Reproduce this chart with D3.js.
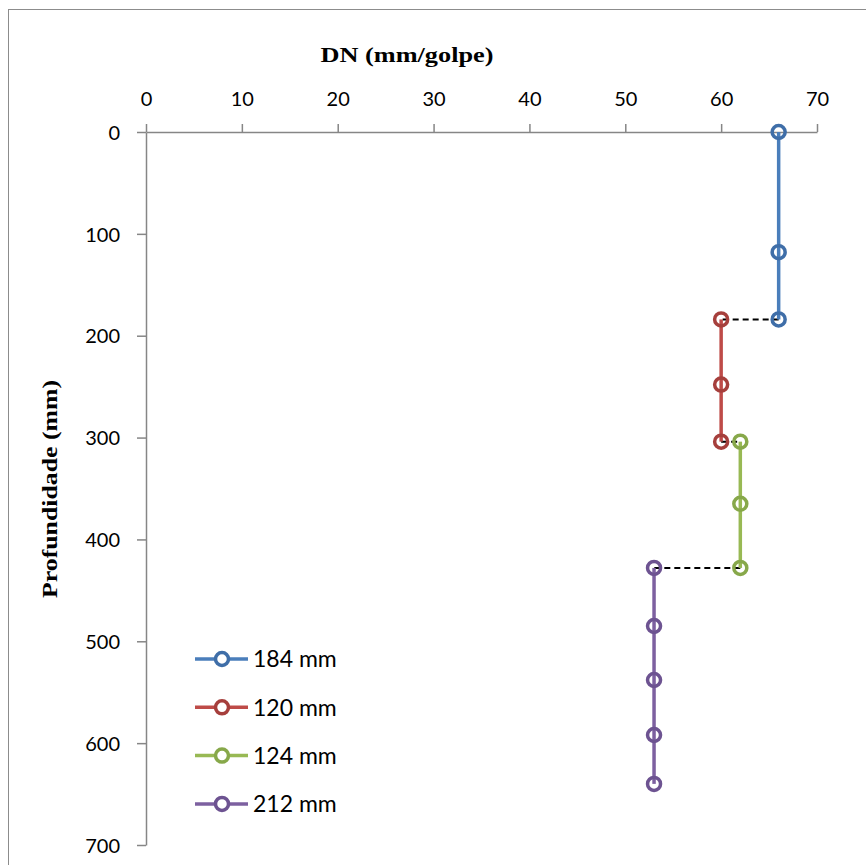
<!DOCTYPE html>
<html>
<head>
<meta charset="utf-8">
<script src="https://cdn.jsdelivr.net/npm/d3@7"></script>
<style>
  body { margin: 0; background: #fff; }
  .tick text { font-family: Lato, "Open Sans", sans-serif; font-size: 20px; fill: #000; }
</style>
</head>
<body>
<div id="chart"></div>
<script>
// series names (legend)
var seriesNames = ['184 mm', '120 mm', '124 mm', '212 mm'];
var seriesColors = ['#4A7EBB', '#BE4B48', '#98B954', '#7D60A0'];
var markerColors = ['#3F6EA8', '#A63F3C', '#87A84A', '#6D5391'];

// DN values (mm/golpe) and depths (mm) per layer
var dn184 = [66, 66, 66];
var depth184 = [0, 118, 184];
var dn120 = [60, 60, 60];
var depth120 = [184, 248, 304];
var dn124 = [62, 62, 62];
var depth124 = [304, 365, 428];
var dn212 = [53, 53, 53, 53, 53];
var depth212 = [428, 485, 538, 592, 640];

var xTicks = [0, 10, 20, 30, 40, 50, 60, 70];
var yTicks = [0, 100, 200, 300, 400, 500, 600, 700];

var W = 866, H = 865;

var svg = d3.select('#chart').append('svg')
    .attr('width', W)
    .attr('height', H);

// outer chart frame
svg.append('rect')
    .attr('x', 8.5).attr('y', 9.5)
    .attr('width', W + 20).attr('height', H + 20)
    .attr('fill', 'none').attr('stroke', '#8c8c8c').attr('stroke-width', 1);

var x = d3.scaleLinear().domain([0, 70]).range([146, 817]);
var y = d3.scaleLinear().domain([0, 700]).range([132, 845]);

var g = svg.append('g');

// x axis on top
var xAxis = g.append('g')
    .attr('transform', 'translate(0,132)')
    .call(d3.axisTop(x).tickValues(xTicks).tickSize(8).tickPadding(18).tickSizeOuter(0));
// y axis on left
var yAxis = g.append('g')
    .attr('transform', 'translate(146,0)')
    .call(d3.axisLeft(y).tickValues(yTicks).tickSize(9).tickPadding(17).tickSizeOuter(0));

[xAxis, yAxis].forEach(function(ax){
    ax.select('.domain').attr('stroke', '#868686').attr('stroke-width', 1.5);
    ax.selectAll('.tick line').attr('stroke', '#868686').attr('stroke-width', 1.5);
    ax.selectAll('.tick text').attr('dy', '0.36em');
});
xAxis.selectAll('.tick text').attr('dy', '0');

// axis titles
svg.append('text')
    .attr('x', 407).attr('y', 62)
    .attr('text-anchor', 'middle')
    .attr('textLength', 173)
    .attr('lengthAdjust', 'spacingAndGlyphs')
    .style('font-family', '"Liberation Serif", serif')
    .style('font-weight', 'bold')
    .style('font-size', '22px')
    .text('DN (mm/golpe)');

svg.append('text')
    .attr('transform', 'translate(57,489) rotate(-90)')
    .attr('text-anchor', 'middle')
    .attr('textLength', 218)
    .attr('lengthAdjust', 'spacingAndGlyphs')
    .style('font-family', '"Liberation Serif", serif')
    .style('font-weight', 'bold')
    .style('font-size', '22px')
    .text('Profundidade (mm)');

var series = [
    {dn: dn184, depth: depth184},
    {dn: dn120, depth: depth120},
    {dn: dn124, depth: depth124},
    {dn: dn212, depth: depth212}
];

// dashed connectors between consecutive layers
series.slice(1).forEach(function(s, i){
    var prev = series[i];
    g.append('line')
        .attr('x1', x(prev.dn[prev.dn.length - 1]))
        .attr('y1', y(prev.depth[prev.depth.length - 1]))
        .attr('x2', x(s.dn[0]))
        .attr('y2', y(s.depth[0]))
        .attr('stroke', '#000')
        .attr('stroke-width', 2)
        .attr('stroke-dasharray', '6,4');
});

var line = d3.line()
    .x(function(d){ return x(d[0]); })
    .y(function(d){ return y(d[1]); });

series.forEach(function(s, i){
    var pts = s.dn.map(function(v, k){ return [v, s.depth[k]]; });
    g.append('path')
        .attr('d', line(pts))
        .attr('fill', 'none')
        .attr('stroke', seriesColors[i])
        .attr('stroke-width', 3.5);
    g.selectAll('circle.s' + i)
        .data(pts)
        .enter().append('circle')
        .attr('class', 's' + i)
        .attr('cx', function(d){ return x(d[0]); })
        .attr('cy', function(d){ return y(d[1]); })
        .attr('r', 6.5)
        .attr('fill', 'none')
        .attr('stroke', markerColors[i])
        .attr('stroke-width', 3.5);
});

// legend
var legend = svg.append('g').attr('transform', 'translate(195,659)');
seriesNames.forEach(function(name, i){
    var row = legend.append('g').attr('transform', 'translate(0,' + (i * 48.3) + ')');
    row.append('line')
        .attr('x1', 0).attr('x2', 53).attr('y1', 0).attr('y2', 0)
        .attr('stroke', seriesColors[i]).attr('stroke-width', 3.5);
    row.append('circle')
        .attr('cx', 27).attr('cy', 0).attr('r', 6.5)
        .attr('fill', '#fff')
        .attr('stroke', markerColors[i]).attr('stroke-width', 3.5);
    row.append('text')
        .attr('x', 58).attr('y', 0).attr('dy', '0.36em')
        .style('font-family', 'Lato, "Open Sans", sans-serif')
        .style('font-size', '23px')
        .text(name);
});
</script>
</body>
</html>
